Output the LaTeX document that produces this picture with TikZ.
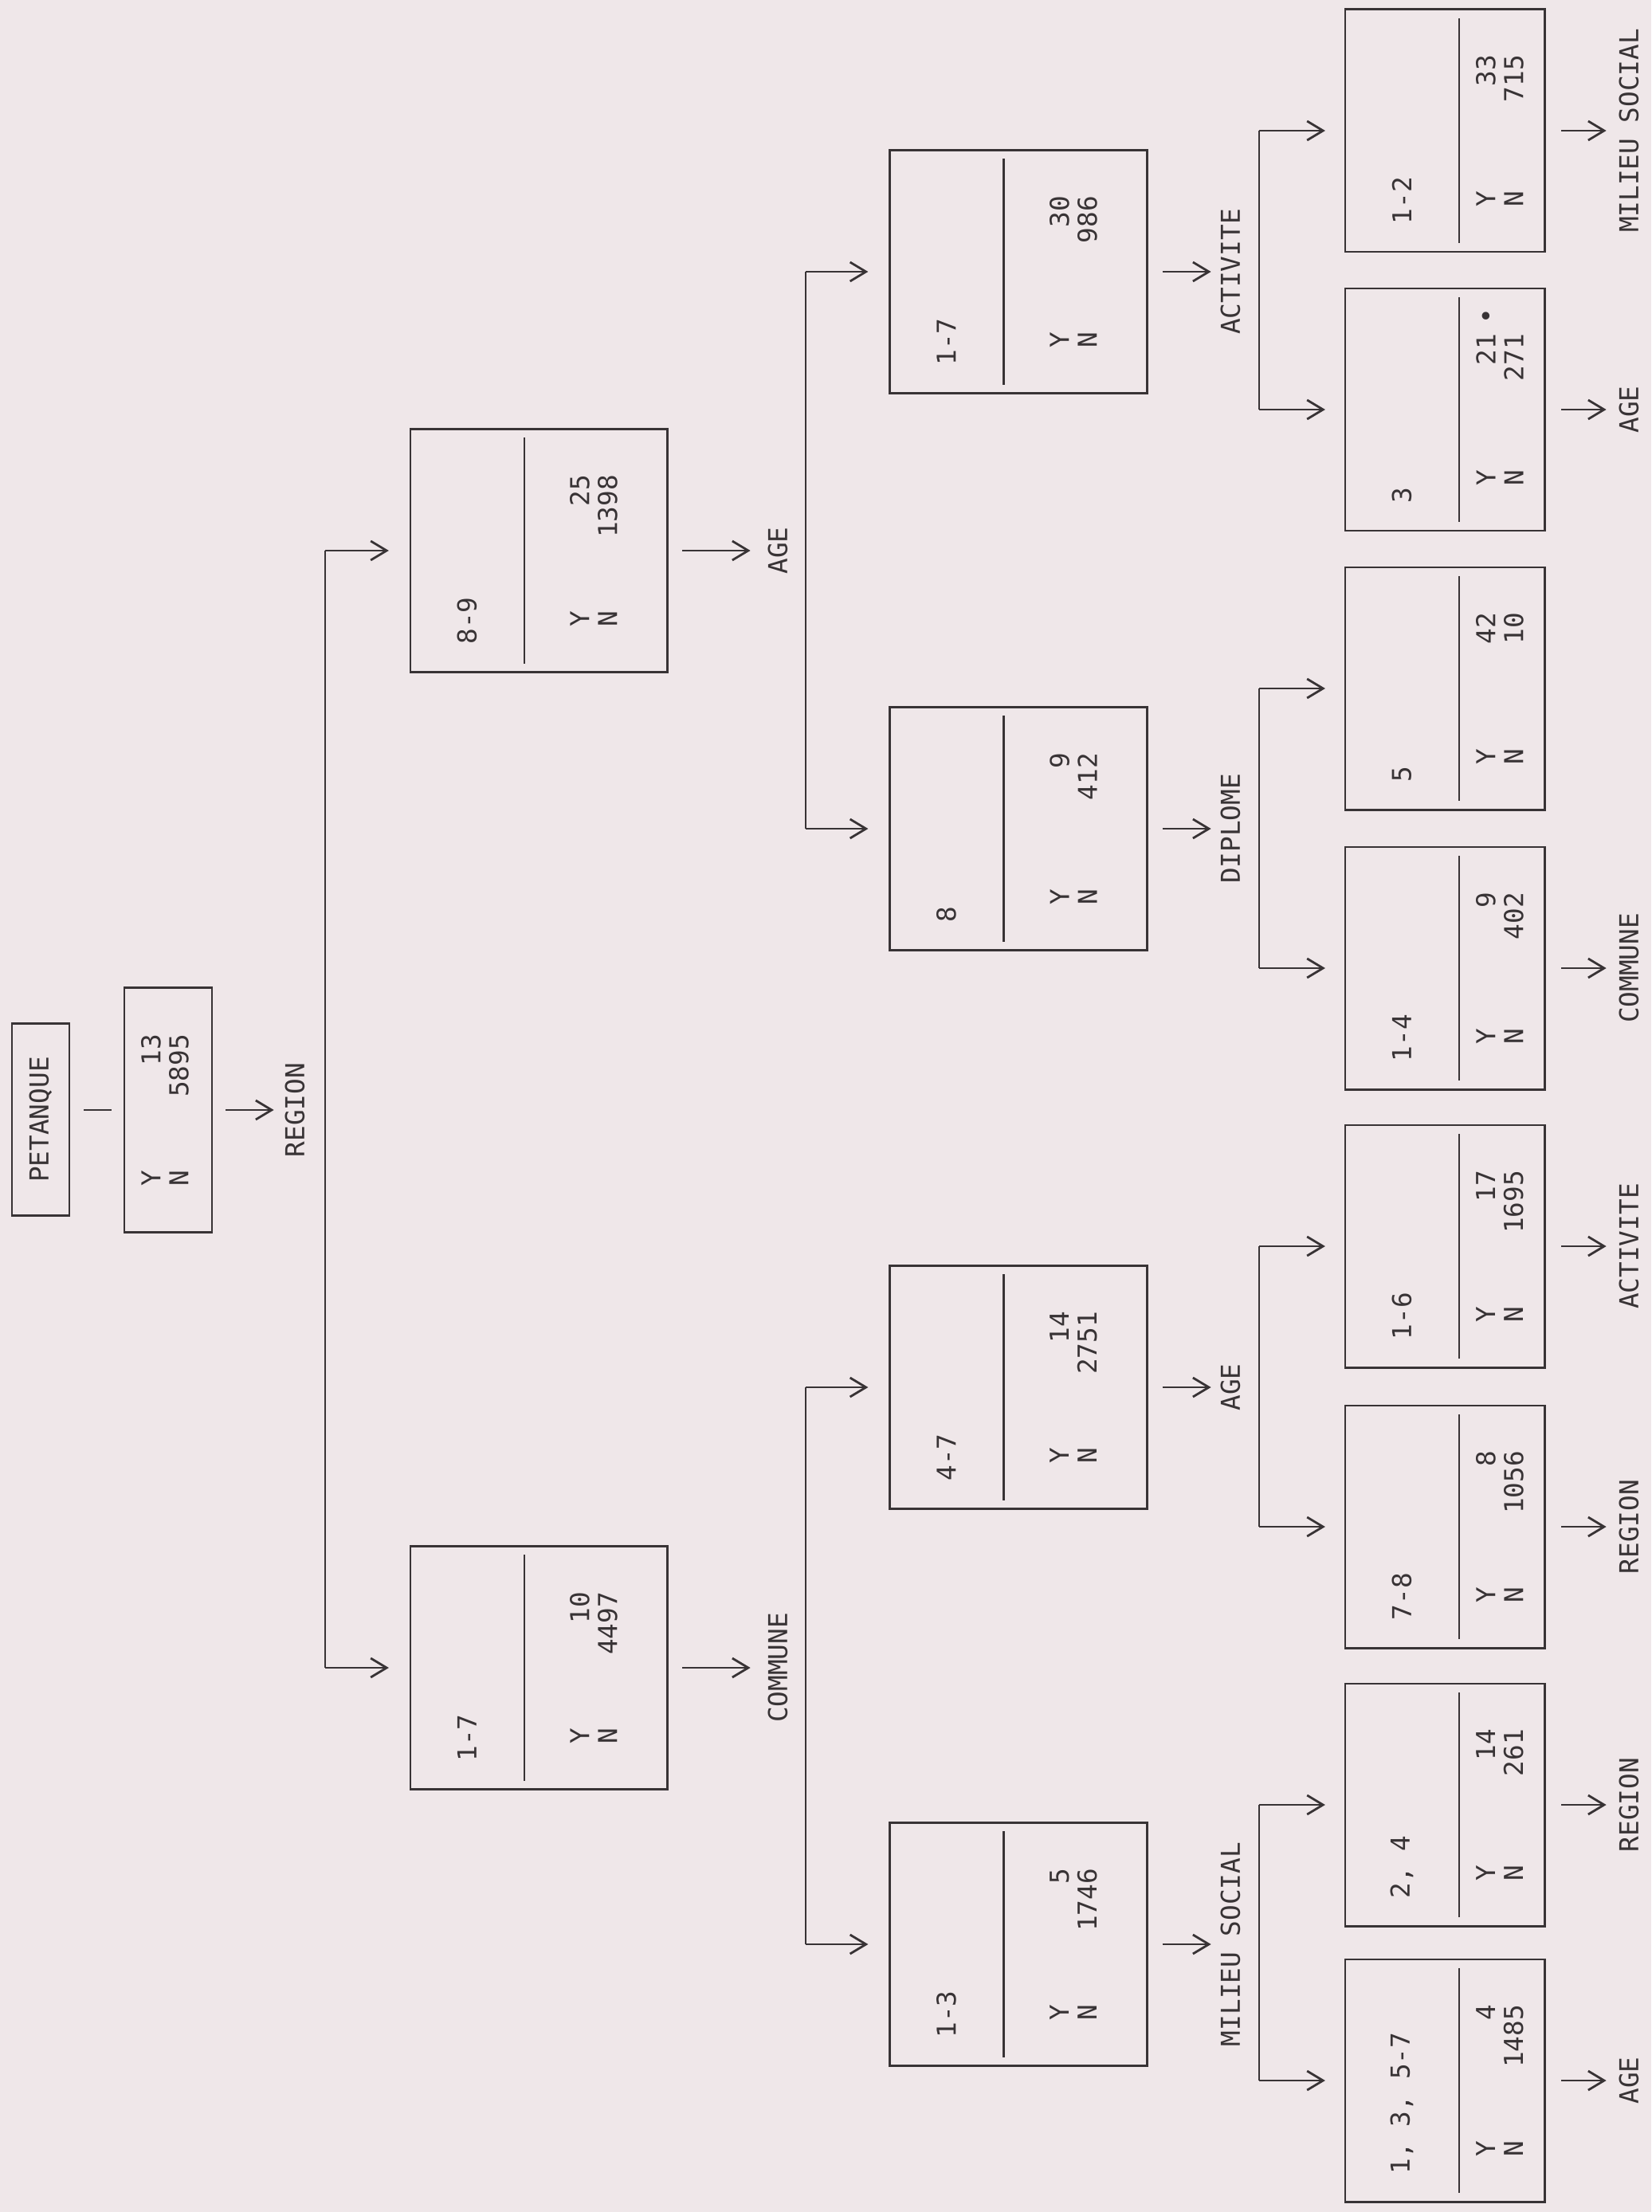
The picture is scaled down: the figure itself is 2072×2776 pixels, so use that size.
\documentclass[tikz,border=0pt]{standalone}
\usepackage{fontspec}
\newfontfamily\dmono{DejaVu Sans Mono}
\usetikzlibrary{calc,arrows.meta}
\definecolor{paper}{RGB}{239,231,233}
\definecolor{ink}{RGB}{56,51,53}
\newcommand\diagfont{\dmono\fontsize{9.3pt}{9.96pt}\selectfont}
\newlength\ynw \setlength\ynw{1.9cm}
\newcommand\ynrows[2]{\makebox[\ynw]{Y\hfill#1}\\\makebox[\ynw]{N\hfill#2}}
\begin{document}
\begin{tikzpicture}[x=0.01cm, y=-0.01cm,
  every node/.style={inner sep=0pt, outer sep=0pt},
  box/.style={draw=ink, line width=0.8pt},
  lvA/.style={box, minimum width=3.22cm, minimum height=3.05cm},
  lvB/.style={box, minimum width=3.23cm, minimum height=3.05cm},
  lvC/.style={box, minimum width=2.50cm, minimum height=3.04cm},
  txt/.style={rotate=90, text=ink, font=\diagfont},
  ynblk/.style={txt, align=left},
  wire/.style={draw=ink, line width=0.8pt},
  chev/.style={wire, -{Straight Barb[length=0.2cm, width=0.24cm]}},
]
\fill[paper] (0,0) rectangle (2072,2776);
\useasboundingbox (0,0) rectangle (2072,2776);

% ---------- boxes ----------
\node[box, minimum width=0.72cm, minimum height=2.41cm] (P) at (51,1405) {};
\node[txt] (Pt) at (P.center) {PETANQUE};
\node[box, minimum width=1.10cm, minimum height=3.07cm] (R) at (211,1393) {};
\node[ynblk] (Rn) at ($(R.center)+(-4,0)$) {\ynrows{13}{5895}};

\node[lvA] (A1) at (676,2093) {};
\node[lvA] (A2) at (676,691) {};

\node[lvB] (B1) at (1278,2440) {};
\node[lvB] (B2) at (1278,1741) {};
\node[lvB] (B3) at (1278,1040) {};
\node[lvB] (B4) at (1278,341) {};

\node[lvC] (C1) at (1813,2611) {};
\node[lvC] (C2) at (1813,2265) {};
\node[lvC] (C3) at (1813,1916) {};
\node[lvC] (C4) at (1813,1564) {};
\node[lvC] (C5) at (1813,1215) {};
\node[lvC] (C6) at (1813,864) {};
\node[lvC] (C7) at (1813,514) {};
\node[lvC] (C8) at (1813,164) {};

% ---------- inner dividers, labels and counts ----------
\foreach \b/\lab/\yy/\nn in {A1/1-7/10/4497, A2/8-9/25/1398,
  B1/1-3/5/1746, B2/4-7/14/2751, B3/8/9/412, B4/1-7/30/986,
  C1/{1, 3, 5-7}/4/1485, C2/{2, 4}/14/261, C3/7-8/8/1056, C4/1-6/17/1695,
  C5/1-4/9/402, C6/5/42/10, C8/1-2/33/715}{
  \draw[wire] ($(\b.north west)+(143,11)$) -- ($(\b.south west)+(143,-11)$);
  \node[txt, anchor=west] (\b l) at ($(\b.south west)+(71,-35)$) {\lab};
  \node[ynblk] (\b n) at ($(\b.center)+(69,0)$) {\ynrows{\yy}{\nn}};
}
\draw[wire] ($(C7.north west)+(143,11)$) -- ($(C7.south west)+(143,-11)$);
\node[txt, anchor=west] (C7l) at ($(C7.south west)+(71,-35)$) {3};
\node[ynblk] (C7n) at ($(C7.center)+(69,0)$) {\ynrows{21\rlap{\hspace{0.12cm}•}}{271}};

% ---------- root link ----------
\draw[wire, shorten <=0.18cm, shorten >=0.16cm] (R.west -| P.east) -- (R.west);

% ---------- outgoing arrows with variable names ----------
\node[txt] (Ro) at (370,1393) {REGION};
\draw[chev] ($(R.east)+(17,0)$) -- ($(Ro.north)+(-14,0)$);

\foreach \b/\v in {A1/COMMUNE, A2/AGE}{
  \node[txt] (\b o) at (976,0 |- \b.east) {\v};
  \draw[chev] ($(\b.east)+(19,0)$) -- ($(\b o.north)+(-22,0)$);
}
\foreach \b/\v in {B1/MILIEU SOCIAL, B2/AGE, B3/DIPLOME, B4/ACTIVITE}{
  \node[txt] (\b o) at (1544,0 |- \b.east) {\v};
  \draw[chev] ($(\b.east)+(19,0)$) -- ($(\b o.north)+(-12,0)$);
}
\foreach \b/\v in {C1/AGE, C2/REGION, C3/REGION, C4/ACTIVITE, C5/COMMUNE, C7/AGE, C8/MILIEU SOCIAL}{
  \node[txt] (\b o) at (2044,0 |- \b.east) {\v};
  \draw[chev] ($(\b.east)+(21,0)$) -- ($(\b o.north)+(-16,0)$);
}

% ---------- brackets ----------
\coordinate (kR) at (408,0);
\coordinate (kA) at (1011,0);
\coordinate (kB) at (1580,0);
\draw[wire] (A2.west -| kR) -- (A1.west -| kR);
\foreach \c in {A1, A2}{ \draw[chev, shorten >=0.27cm] (\c.west -| kR) -- (\c.west); }

\draw[wire] (B2.west -| kA) -- (B1.west -| kA);
\draw[wire] (B4.west -| kA) -- (B3.west -| kA);
\foreach \c in {B1, B2, B3, B4}{ \draw[chev, shorten >=0.27cm] (\c.west -| kA) -- (\c.west); }

\draw[wire] (C2.west -| kB) -- (C1.west -| kB);
\draw[wire] (C4.west -| kB) -- (C3.west -| kB);
\draw[wire] (C6.west -| kB) -- (C5.west -| kB);
\draw[wire] (C8.west -| kB) -- (C7.west -| kB);
\foreach \c in {C1, C2, C3, C4, C5, C6, C7, C8}{ \draw[chev, shorten >=0.25cm] (\c.west -| kB) -- (\c.west); }
\end{tikzpicture}
\end{document}
